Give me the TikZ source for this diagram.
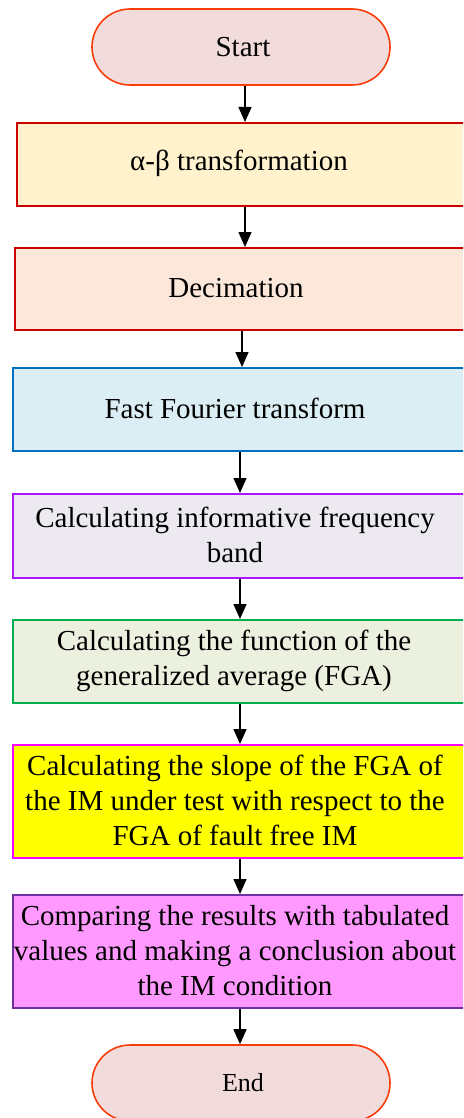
\documentclass[tikz,border=0pt]{standalone}
\usepackage{fontspec}
\setmainfont{Liberation Serif}
\newfontfamily\tms{Liberation Serif}
\usetikzlibrary{arrows.meta,calc}
\definecolor{termfill}{RGB}{242,220,219}
\definecolor{termdraw}{RGB}{250,60,10}
\definecolor{fillA}{RGB}{255,242,204}
\definecolor{drawA}{RGB}{204,0,0}
\definecolor{fillB}{RGB}{252,232,218}
\definecolor{drawB}{RGB}{204,0,0}
\definecolor{fillC}{RGB}{218,238,243}
\definecolor{drawC}{RGB}{0,112,192}
\definecolor{fillD}{RGB}{236,233,240}
\definecolor{drawD}{RGB}{170,20,255}
\definecolor{fillE}{RGB}{235,241,222}
\definecolor{drawE}{RGB}{0,176,80}
\definecolor{fillF}{RGB}{255,255,0}
\definecolor{drawF}{RGB}{255,0,255}
\definecolor{fillG}{RGB}{255,153,255}
\definecolor{drawG}{RGB}{112,48,160}
\tikzset{
  term/.style={draw=termdraw, fill=termfill, line width=1.6pt, rounded corners=38pt,
    minimum width=298pt, minimum height=76pt, inner sep=0pt},
  procbox/.style={line width=1.8pt, minimum width=470pt, anchor=north west, inner sep=0pt},
  lbl/.style={align=center, font=\tms\fontsize{29}{35}\selectfont, inner sep=0pt},
  arr/.style={-{Triangle[width=13pt,length=15pt]}, line width=1.4pt, black}
}
\begin{document}
\begin{tikzpicture}[x=1pt,y=-1pt]
\useasboundingbox (0,0) rectangle (463,1118);
\clip (0,0) rectangle (463,1118);
% terminals
\node[term] (start) at (241,47) {};
\node[lbl] (tstart) at (243,47) {Start};
% boxes
\node[procbox, draw=drawA, fill=fillA, minimum height=83pt] (b1) at (16,122) {};
\node[lbl] (t1) at (239,163.5) {α-β transformation};
\node[procbox, draw=drawB, fill=fillB, minimum height=82pt] (b2) at (14,247) {};
\node[lbl] (t2) at (236,288) {Decimation};
\node[procbox, draw=drawC, fill=fillC, minimum height=83pt] (b3) at (12,367) {};
\node[lbl] (t3) at (235,408.5) {Fast Fourier transform};
\node[procbox, draw=drawD, fill=fillD, minimum height=84pt] (b4) at (12,493) {};
\node[lbl] (t4) at (235,535) {Calculating informative frequency\\band};
\node[procbox, draw=drawE, fill=fillE, minimum height=83pt] (b5) at (12,619) {};
\node[lbl] (t5) at (234,660.5) {Calculating the function of the\\generalized average (FGA)};
\node[procbox, draw=drawF, fill=fillF, minimum height=113pt] (b6) at (12,744) {};
\node[lbl] (t6) at (235,800.5) {Calculating the slope of the FGA of\\the IM under test with respect to the\\FGA of fault free IM};
\node[procbox, draw=drawG, fill=fillG, minimum height=113pt] (b7) at (12,894) {};
\node[lbl] (t7) at (235,950.5) {Comparing the results with tabulated\\values and making a conclusion about\\the IM condition};
\node[term] (end) at (241,1083) {};
\node[lbl, font=\tms\fontsize{26}{30}\selectfont] (tend) at (243,1083) {End};
% arrow columns
\coordinate (xa) at (245,0);
\coordinate (xb) at (242,0);
\coordinate (xc) at (240,0);
% connectors
\draw[arr] (start.south -| xa) -- (b1.north -| xa);
\draw[arr] (b1.south -| xa) -- (b2.north -| xa);
\draw[arr] (b2.south -| xb) -- (b3.north -| xb);
\draw[arr] (b3.south -| xc) -- (b4.north -| xc);
\draw[arr] (b4.south -| xc) -- (b5.north -| xc);
\draw[arr] (b5.south -| xc) -- (b6.north -| xc);
\draw[arr] (b6.south -| xc) -- (b7.north -| xc);
\draw[arr] (b7.south -| xc) -- (end.north -| xc);
\end{tikzpicture}
\end{document}
